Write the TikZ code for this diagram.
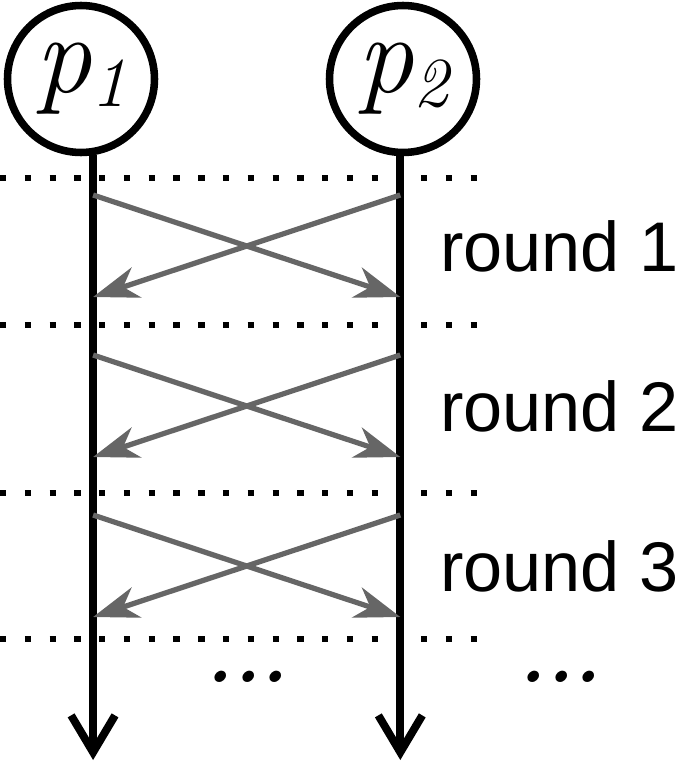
\documentclass[tikz,border=0pt]{standalone}
\usepackage{fontspec}
\setsansfont{Liberation Sans}
\usepackage{xcolor}
\definecolor{msgGray}{HTML}{666666}
\usepackage{tikz}
\usetikzlibrary{arrows.meta}

\begin{document}
\begin{tikzpicture}[x=0.02cm, y=-0.02cm,
  proc/.style={circle, draw, line width=4.3pt, minimum size=2.94cm, inner sep=0pt, font=\fontsize{64}{64}\selectfont\itshape},
  life/.style={line width=4.5pt, -{Straight Barb[length=21pt, width=25pt, sharp]}},
  msg/.style={msgGray, line width=3pt, -{Stealth[length=26pt, width=18pt, inset=8pt]}},
  sep/.style={line width=3pt, dash pattern=on 3.6pt off 10.5pt},
  lbl/.style={font=\sffamily\fontsize{40}{48}\selectfont, inner sep=0pt, anchor=west},
  dots/.style={font=\rmfamily\bfseries\itshape\fontsize{44}{44}\selectfont, inner sep=0pt}]
\useasboundingbox (0,0) rectangle (683,764);
\node[proc] (p1) at (81,79) {p\raisebox{-0.12em}{\fontsize{40}{40}\selectfont 1}};
\node[proc] (p2) at (403,79) {p\raisebox{-0.12em}{\fontsize{40}{40}\selectfont 2}};
\coordinate (t1) at (p1.-81);
\coordinate (t2) at (p2.-92);
\coordinate (b1) at (t1 |- 0,760);
\coordinate (b2) at (t2 |- 0,760);
% round separators
\foreach \y in {178,325,493,639}
  \draw[sep] (0,\y) -- (481,\y);
\draw[life] (t1) -- (b1);
\draw[life] (t2) -- (b2);
% messages of each round
\foreach \r/\s/\e in {1/195/297, 2/355/457, 3/515/617} {
  \coordinate (s1\r) at (t1 |- 0,\s);
  \coordinate (s2\r) at (t2 |- 0,\s);
  \coordinate (e1\r) at (t1 |- 0,\e);
  \coordinate (e2\r) at (t2 |- 0,\e);
  \draw[msg] (s1\r) -- (e2\r);
  \draw[msg] (s2\r) -- (e1\r);
  \node[lbl] (r\r) at (440,{(\s+\e)/2}) {round \r};
}
\node[dots] (d1) at (247,677) {...};
\node[dots] (d2) at (560,677) {...};
\end{tikzpicture}
\end{document}
